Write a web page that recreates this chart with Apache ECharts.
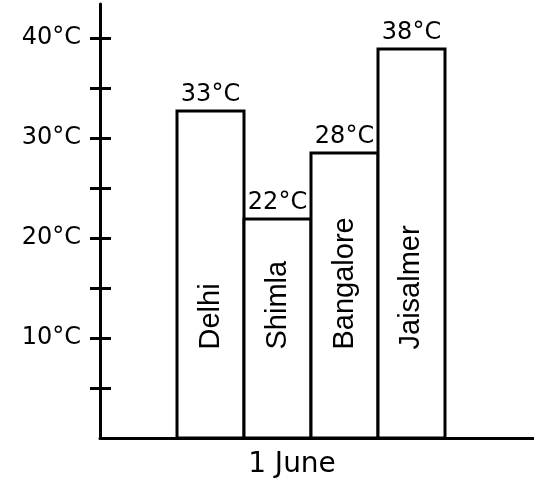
<!DOCTYPE html>
<html><head><meta charset="utf-8">
<script src="https://cdn.jsdelivr.net/npm/echarts@6/dist/echarts.min.js"></script>
<style>html,body{margin:0;padding:0;background:#fff}#c{width:534px;height:479px}</style>
</head><body><div id="c"></div>
<script>
const cities = ['Delhi', 'Shimla', 'Bangalore', 'Jaisalmer'];
const temps = [33, 22.2, 28.8, 39.2];
const tempLabels = ['33°C', '22°C', '28°C', '38°C'];
const dateLabel = '1 June';
const yTickValues = [5, 10, 15, 20, 25, 30, 35, 40];
const yLabelValues = [10, 20, 30, 40];
const yMax = 43.4;

const font = '"Liberation Sans", Arial, sans-serif';
const wideFont = '"DejaVu Sans", sans-serif';
const chart = echarts.init(document.getElementById('c'), null, {renderer: 'canvas'});
const option = {
  animation: false,
  backgroundColor: '#fff',
  grid: [
    {left: 100, right: 0, top: 4, bottom: 41, outerBoundsMode: 'none', containLabel: false},
    {left: 177, right: 89, top: 5.5, bottom: 39.5, outerBoundsMode: 'none', containLabel: false}
  ],
  xAxis: [
    {gridIndex: 0, type: 'value', min: 0, max: 1,
     axisLine: {show: true, lineStyle: {color: '#000', width: 3}},
     axisTick: {show: false}, axisLabel: {show: false}, splitLine: {show: false}},
    {gridIndex: 1, type: 'category', data: cities,
     axisLine: {show: false}, axisTick: {show: false}, axisLabel: {show: false},
     name: dateLabel, nameLocation: 'middle', nameGap: 11,
     nameTextStyle: {color: '#000', fontSize: 28, fontFamily: wideFont, padding: [0, 38, 0, 0]}}
  ],
  yAxis: [
    {gridIndex: 0, type: 'value', min: 0, max: yMax, position: 'left',
     axisLine: {show: true, lineStyle: {color: '#000', width: 3}},
     axisTick: {show: true, customValues: yTickValues, length: 10, lineStyle: {color: '#000', width: 3}},
     axisLabel: {show: true, customValues: yLabelValues, formatter: v => v + '°C', margin: 19,
                 color: '#000', fontSize: 24, fontFamily: wideFont, padding: [5, 0, 0, 0]},
     splitLine: {show: false}},
    {gridIndex: 0, type: 'value', min: 0, max: yMax, position: 'left',
     axisLine: {show: false},
     axisTick: {show: true, inside: true, customValues: yTickValues, length: 11, lineStyle: {color: '#000', width: 3}},
     axisLabel: {show: false}, splitLine: {show: false}},
    {gridIndex: 1, type: 'value', min: 0, max: yMax, show: false}
  ],
  series: [
    {type: 'bar', xAxisIndex: 1, yAxisIndex: 2, data: temps, barWidth: 70, barGap: '-100%',
     itemStyle: {color: '#fff', borderColor: '#000', borderWidth: 3},
     emphasis: {disabled: true},
     label: {show: true, position: 'top', distance: 3, formatter: p => tempLabels[p.dataIndex],
             color: '#000', fontSize: 24, fontFamily: wideFont}},
    {type: 'bar', xAxisIndex: 1, yAxisIndex: 2, data: temps, barWidth: 70, barGap: '-100%',
     itemStyle: {color: 'rgba(0,0,0,0)', borderWidth: 0},
     emphasis: {disabled: true},
     label: {show: true, position: 'insideBottom', distance: 90, rotate: 90, align: 'left', verticalAlign: 'middle',
             formatter: p => cities[p.dataIndex], color: '#000', fontSize: 29, fontFamily: font}}
  ]
};
chart.setOption(option);
</script>
</body></html>
